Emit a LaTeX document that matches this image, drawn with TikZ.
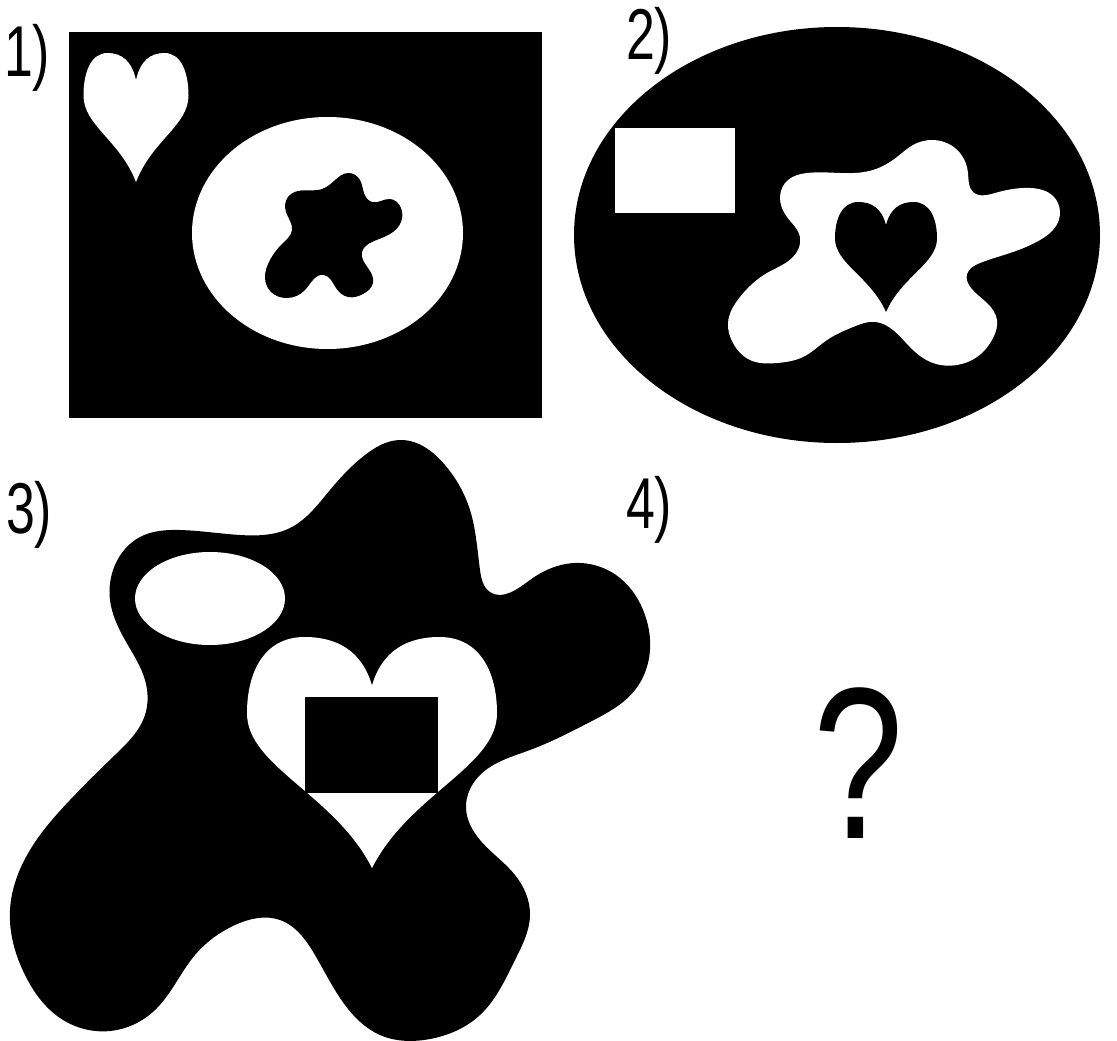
\documentclass[tikz,border=0pt]{standalone}
\usepackage{fontspec}
\setmainfont{Liberation Sans}
\usetikzlibrary{hobby}
\newcommand\myheart[5]{%
  \fill[#5, shift={(#1,#2)}, xscale=#3, yscale=#4]
    (0,0.21) .. controls (-0.04,0.06) and (-0.14,0) .. (-0.27,0)
    .. controls (-0.43,0) and (-0.5,0.15) .. (-0.5,0.33)
    .. controls (-0.5,0.56) and (-0.15,0.68) .. (0,1)
    .. controls (0.15,0.68) and (0.5,0.56) .. (0.5,0.33)
    .. controls (0.5,0.15) and (0.43,0) .. (0.27,0)
    .. controls (0.14,0) and (0.04,0.06) .. (0,0.21) -- cycle;}
\begin{document}
\begin{tikzpicture}[x=1pt,y=-1pt,
  lbl/.style={anchor=base west, inner sep=0pt, xscale=0.72, font=\fontsize{72}{76}\selectfont},
  blob/.style={use Hobby shortcut, closed=true}]
\useasboundingbox (0,0) rectangle (1117,1041);
\fill[white] (0,0) rectangle (1117,1041);

% labels
\node[lbl] (l1) at (4,77) {1)};
\node[lbl] (l2) at (626,60) {2)};
\node[lbl] (l3) at (6,533) {3)};
\node[lbl] (l4) at (626,528) {4)};
\node[anchor=base west, inner sep=0pt, xscale=0.75, font=\fontsize{216}{220}\selectfont] (q) at (813,838) {?};

% panel 1
\fill[black] (69,32) rectangle (542,418);
\myheart{136}{53}{105}{129}{white}
\fill[white] (327.5,233) ellipse [x radius=135.5, y radius=116];
\fill[black, blob] (348,173) .. (360,180) .. (364,193) .. (372,202) .. (390,199) .. (401,208) .. (401,222) .. (390,234) .. (372,242) .. (362,252) .. (368,268) .. (373,283) .. (363,294) .. (348,297) .. (336,288) .. (324,275) .. (305,290) .. (287,298) .. (271,292) .. (265,278) .. (270,260) .. (282,244) .. (292,230) .. (286,212) .. (288,197) .. (298,191) .. (322,189) .. (334,181);

% panel 2
\fill[black] (837,235) ellipse [x radius=263, y radius=208];
\fill[white] (615,128) rectangle (735,213);
\fill[white, blob] (933,140) .. (960,153) .. (968,173) .. (973,192) .. (995,193) .. (1030,188) .. (1053,196) .. (1060,212) .. (1056,226) .. (1040,240) .. (1010,253) .. (980,263) .. (967,274) .. (971,288) .. (987,303) .. (997,320) .. (993,338) .. (977,357) .. (957,365) .. (933,363) .. (913,350) .. (893,330) .. (876,322) .. (853,327) .. (827,340) .. (803,357) .. (777,363) .. (750,360) .. (733,343) .. (728,323) .. (740,297) .. (767,273) .. (793,257) .. (800,237) .. (787,217) .. (780,197) .. (788,180) .. (807,173) .. (840,173) .. (873,170) .. (897,157) .. (913,145);
\myheart{886}{202}{102}{110}{black}

% panel 3
\fill[black, blob] (400,440) .. (445,465) .. (470,510) .. (480,570) .. (490,592) .. (530,580) .. (575,563) .. (620,578) .. (645,615) .. (650,650) .. (635,690) .. (590,722) .. (530,750) .. (480,775) .. (466,808) .. (480,840) .. (515,875) .. (530,915) .. (515,960) .. (480,1015) .. (430,1039) .. (380,1035) .. (345,1005) .. (315,955) .. (280,920) .. (235,925) .. (195,955) .. (155,1010) .. (110,1031) .. (60,1018) .. (25,975) .. (10,910) .. (30,850) .. (70,800) .. (115,755) .. (145,715) .. (145,680) .. (125,640) .. (110,600) .. (115,565) .. (140,537) .. (180,530) .. (240,535) .. (290,528) .. (330,490) .. (365,455);
\fill[white] (210,598.5) ellipse [x radius=75, y radius=46.5];
\myheart{372}{637}{250}{231}{white}
\fill[black] (305,697) rectangle (438,793);
\end{tikzpicture}
\end{document}
